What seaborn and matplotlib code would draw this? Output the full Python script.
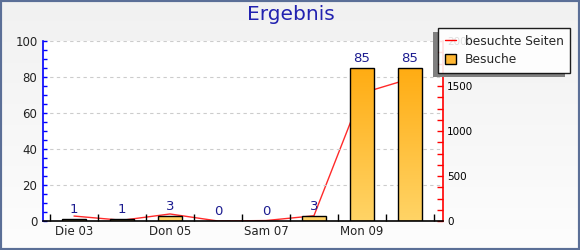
import numpy as np
import pandas as pd
import seaborn as sns
import matplotlib
matplotlib.use("Agg")
import matplotlib.pyplot as plt
from matplotlib.colors import LinearSegmentedColormap
from matplotlib.lines import Line2D
from matplotlib.patches import Patch, Rectangle
from matplotlib.ticker import MultipleLocator, FixedLocator
from matplotlib.transforms import IdentityTransform

# ---- data ----
days = ["Die 03", "Mit 04", "Don 05", "Fre 06", "Sam 07", "Son 08", "Mon 09", "Die 10"]
visits = [1, 1, 3, 0, 0, 3, 85, 85]               # Besuche (left axis)
pages = [55, 8, 78, 0, 5, 58, 1420, 1580]         # besuchte Seiten (right axis)
shown_labels = ["Die 03", "", "Don 05", "", "Sam 07", "", "Mon 09", ""]
title = "Ergebnis"
left_ticks = [0, 20, 40, 60, 80, 100]
right_ticks = [0, 500, 1000, 1500, 2000]

df = pd.DataFrame({"Tag": days, "Besuche": visits, "Seiten": pages})

sns.set_theme(style="white")
plt.rcParams["font.family"] = ["DejaVu Sans"]

fig = plt.figure(figsize=(5.8, 2.5), dpi=100)

# background gradient
bg = fig.add_axes([0, 0, 1, 1], zorder=-10)
grad = np.linspace(0, 1, 256).reshape(-1, 1)
bg_cmap = LinearSegmentedColormap.from_list("bg", ["#f1f1f1", "#fdfdfd"])
bg.imshow(grad, aspect="auto", cmap=bg_cmap, extent=(0, 1, 0, 1), origin="upper")
bg.axis("off")

W, H = 580, 250
ax2 = fig.add_axes([43 / W, 1 - 221 / H, 400 / W, 180 / H])
ax = fig.add_axes(ax2.get_position())
ax2.set_facecolor("white")
ax.patch.set_visible(False)
ax.set_zorder(ax2.get_zorder() + 1)

# line (right axis)
sns.lineplot(x=np.arange(len(days)), y=df["Seiten"], ax=ax2, color="#ff2a2a",
             linewidth=1.0, legend=False)
ax2.set_ylim(0, 2000)
ax2.set_xlim(-0.646, 7.69)
ax2.set_ylabel("")
ax2.set_xlabel("")
ax2.set_xticks([])
ax2.yaxis.set_major_locator(FixedLocator(right_ticks))
ax2.yaxis.set_minor_locator(MultipleLocator(125))
ax2.tick_params(axis="y", which="both", direction="in", length=4, width=1,
                color="red", labelsize=7.5, labelcolor="black", pad=3,
                left=False, right=True, labelleft=False, labelright=True)
for s in ["top", "left", "bottom"]:
    ax2.spines[s].set_visible(False)
ax2.spines["right"].set_color("red")
ax2.spines["right"].set_linewidth(1.2)

# bars (left axis)
sns.barplot(data=df, x="Tag", y="Besuche", ax=ax, color="#ffa500",
            edgecolor="black", linewidth=1.0, width=0.5, zorder=2)
ax.set_xlabel("")
ax.set_ylabel("")

bar_cmap = LinearSegmentedColormap.from_list("bar", ["#ffa504", "#ffd466"])
for p in list(ax.patches):
    x0, y0 = p.get_x(), p.get_y()
    w, h = p.get_width(), p.get_height()
    if h <= 0:
        continue
    im = ax.imshow(grad, aspect="auto", cmap=bar_cmap,
                   extent=(x0, x0 + w, y0, 100), origin="upper", zorder=1.9)
    im.set_clip_path(p)
    p.set_facecolor("none")
ax.set_xlim(-0.646, 7.69)
ax.set_ylim(0, 100)
ax.set_aspect("auto")

for c in ax.containers:
    ax.bar_label(c, color="#1c1c90", fontsize=9.5, padding=2)

ax.yaxis.set_major_locator(FixedLocator(left_ticks))
ax.yaxis.set_minor_locator(MultipleLocator(5))
ax.tick_params(axis="y", which="both", direction="in", length=3, width=1,
               color="blue", labelsize=8.5, labelcolor="#222222", pad=4,
               left=True, right=False)
ax.set_xticks(np.arange(len(days)))
ax.set_xticklabels(shown_labels)
ax.xaxis.set_minor_locator(FixedLocator(np.arange(len(days) + 1) - 0.5))
ax.tick_params(axis="x", which="major", length=0, labelsize=8.5,
               labelcolor="#222222", pad=3)
ax.tick_params(axis="x", which="minor", direction="in", length=5, width=1,
               color="black", bottom=True)
ax.grid(axis="y", which="major", color="#cccccc", linestyle=(0, (3, 3)),
        linewidth=0.8)
ax.set_axisbelow(True)
ax.spines["top"].set_visible(False)
ax.spines["right"].set_visible(False)
ax.spines["left"].set_color("blue")
ax.spines["left"].set_linewidth(1.2)
ax.spines["bottom"].set_color("black")
ax.spines["bottom"].set_linewidth(1.2)

# title
fig.text(291 / W, 1 - 15 / H, title, ha="center", va="center",
         fontsize=14.5, color="#2222b0")

# legend
handles = [Line2D([0], [0], color="red", linewidth=1.0),
           Patch(facecolor="#ffb733", edgecolor="black", linewidth=1.0)]
leg = fig.legend(handles, ["besuchte Seiten", "Besuche"], loc="upper left",
                 bbox_to_anchor=(438 / W, 1 - 28 / H), fontsize=8.8,
                 frameon=True, fancybox=False, shadow=False,
                 framealpha=0.88, facecolor="white", edgecolor="black",
                 handlelength=0.9, handleheight=0.9, borderpad=0.55,
                 labelspacing=0.45, handletextpad=0.75, borderaxespad=0)
leg.get_frame().set_linewidth(1.0)
leg.set_zorder(20)

# legend shadow (offset left/down), only outside the legend box
fig.canvas.draw()
bb = leg.get_window_extent()
dx, dy = 5, 4
fig.patches.append(Rectangle((bb.x0 - dx, bb.y0 - dy), dx, bb.height,
                             transform=IdentityTransform(), facecolor="#808080",
                             edgecolor="none", zorder=19))
fig.patches.append(Rectangle((bb.x0 - dx, bb.y0 - dy), bb.width, dy,
                             transform=IdentityTransform(), facecolor="#808080",
                             edgecolor="none", zorder=19))

# figure border
fig.patches.append(Rectangle((0, 0), 1, 1, transform=fig.transFigure,
                             facecolor="none", edgecolor="#5b6f97",
                             linewidth=3, zorder=30))

fig.savefig("out.png", dpi=100)
